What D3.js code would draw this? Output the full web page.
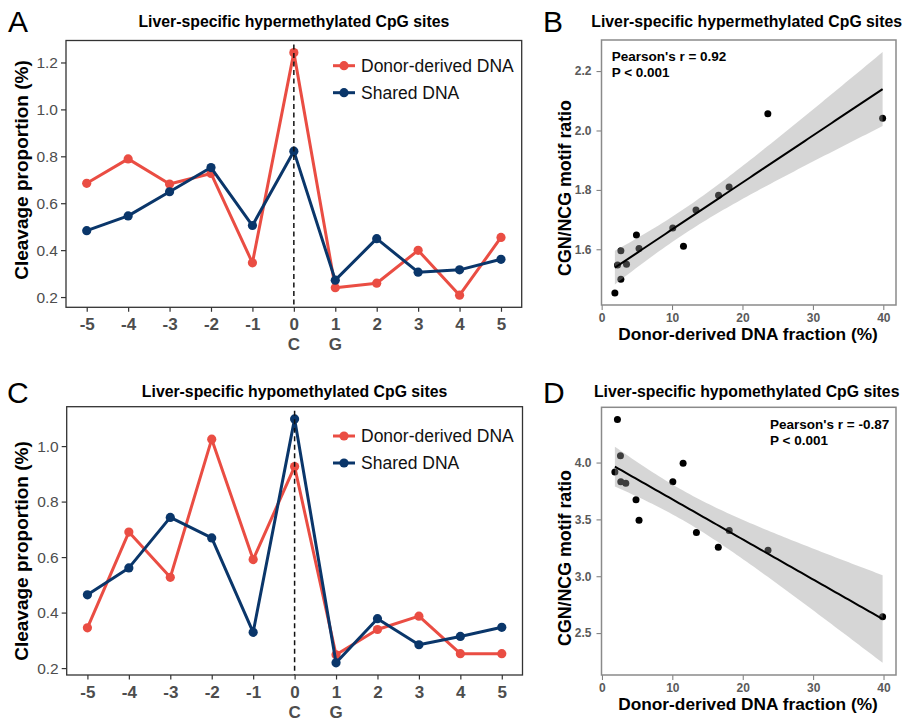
<!DOCTYPE html>
<html>
<head>
<meta charset="utf-8">
<script src="https://d3js.org/d3.v7.min.js"></script>
<style>
body { margin: 0; background: #fff; }
svg { display: block; font-family: "Liberation Sans", Arial, Helvetica, sans-serif; }
</style>
</head>
<body>
<script>
// ---- data ----
let positions = [-5, -4, -3, -2, -1, 0, 1, 2, 3, 4, 5];
let baseLabels = {0: "C", 1: "G"};

// A: hypermethylated sites, cleavage proportion (%)
let donorHyper  = [0.685, 0.789, 0.682, 0.727, 0.346, 1.242, 0.240, 0.259, 0.399, 0.208, 0.454];
let sharedHyper = [0.483, 0.546, 0.649, 0.752, 0.505, 0.822, 0.272, 0.449, 0.306, 0.316, 0.361];
// C: hypomethylated sites
let donorHypo   = [0.345, 0.690, 0.527, 1.025, 0.591, 0.926, 0.248, 0.339, 0.387, 0.252, 0.252];
let sharedHypo  = [0.464, 0.561, 0.743, 0.669, 0.329, 1.098, 0.219, 0.378, 0.284, 0.314, 0.347];

// B / D: donor fraction (%) vs CGN/NCG ratio
let fracHyper  = [1.88, 2.26, 2.73, 2.73, 3.53, 4.94, 5.31, 10.1, 11.62, 13.4, 16.6, 18.1, 23.6, 39.9];
let ratioHyper = [1.453, 1.547, 1.595, 1.499, 1.55, 1.648, 1.603, 1.672, 1.61, 1.732, 1.782, 1.81, 2.056, 2.041];
let fracHypo   = [1.84, 2.2, 2.63, 2.68, 3.39, 4.84, 5.27, 10.07, 11.53, 13.42, 16.53, 18.08, 23.59, 39.87];
let ratioHypo  = [3.918, 4.379, 4.059, 3.831, 3.819, 3.673, 3.492, 3.831, 3.994, 3.384, 3.256, 3.402, 3.229, 2.645];

let ticksA = [0.2, 0.4, 0.6, 0.8, 1.0, 1.2];
let ticksC = [0.2, 0.4, 0.6, 0.8, 1.0];
let ticksFrac = [0, 10, 20, 30, 40];
let ticksB = [1.6, 1.8, 2.0, 2.2];
let ticksD = [2.5, 3.0, 3.5, 4.0];

let seriesNames = ["Donor-derived DNA", "Shared DNA"];
let tCrit = 2.179; // t(0.975, df = 12)

// ---- drawing ----
let width = 903, height = 722;
let red = "#EA4D43", navy = "#0A366A";

let svg = d3.select("body").append("svg")
    .attr("width", width)
    .attr("height", height);
svg.append("rect").attr("width", width).attr("height", height).attr("fill", "#fff");

function expand(ext) {
    let pad = (ext[1] - ext[0]) * 0.05;
    return [ext[0] - pad, ext[1] + pad];
}

function linePanel(c) {
    let g = svg.append("g");
    let x = d3.scaleLinear().domain([-5.5, 5.5]).range([c.x0, c.x1]);
    let y = d3.scaleLinear()
        .domain(expand(d3.extent(c.donor.concat(c.shared))))
        .range([c.y1, c.y0]);

    // axes
    let ya = g.append("g").attr("transform", `translate(${c.x0},0)`)
        .call(d3.axisLeft(y).tickValues(c.yTicks).tickFormat(d3.format(".1f")).tickSize(5).tickPadding(3));
    ya.select(".domain").remove();
    ya.selectAll("line").attr("stroke", "#333").attr("stroke-width", 1.2);
    ya.selectAll("text").attr("font-size", 15.5).attr("fill", "#4d4d4d")
        .attr("font-family", "Liberation Sans, Arial, sans-serif");

    let xa = g.append("g").attr("transform", `translate(0,${c.y1})`)
        .call(d3.axisBottom(x).tickValues(positions).tickFormat(d => String(d)).tickSize(4.5));
    xa.select(".domain").remove();
    xa.selectAll("line").attr("stroke", "#333").attr("stroke-width", 1.2);
    xa.selectAll("text").attr("y", 23).attr("dy", 0)
        .attr("font-size", 17).attr("font-weight", "bold").attr("fill", "#4d4d4d")
        .attr("font-family", "Liberation Sans, Arial, sans-serif");

    g.selectAll(".base").data(positions.filter(p => baseLabels[p]))
        .join("text")
        .attr("x", d => x(d)).attr("y", c.y1 + 43)
        .attr("text-anchor", "middle")
        .attr("font-size", 17).attr("font-weight", "bold").attr("fill", "#4d4d4d")
        .text(d => baseLabels[d]);

    // series
    let line = d3.line().x((d, i) => x(positions[i])).y(d => y(d));
    [[c.donor, red], [c.shared, navy]].forEach(([vals, col]) => {
        g.append("path").datum(vals)
            .attr("d", line).attr("fill", "none")
            .attr("stroke", col).attr("stroke-width", 3).attr("stroke-linejoin", "round");
        g.selectAll(null).data(vals).join("circle")
            .attr("cx", (d, i) => x(positions[i])).attr("cy", d => y(d))
            .attr("r", 4.6).attr("fill", col);
    });

    // dashed marker at the cytosine
    g.append("line")
        .attr("x1", x(0)).attr("x2", x(0))
        .attr("y1", c.y0 + 4).attr("y2", c.y1)
        .attr("stroke", "#111").attr("stroke-width", 1.5).attr("stroke-dasharray", "5,3.5");

    // legend
    let lg = g.append("g").attr("transform", `translate(333,${c.legendY})`);
    [red, navy].forEach((col, i) => {
        let row = lg.append("g").attr("transform", `translate(0,${i * 27})`);
        row.append("line").attr("x1", 0).attr("x2", 22).attr("stroke", col).attr("stroke-width", 3);
        row.append("circle").attr("cx", 11).attr("r", 4.6).attr("fill", col);
        row.append("text").attr("x", 28).attr("dy", "0.35em")
            .attr("font-size", 17.5).attr("fill", "#111").text(seriesNames[i]);
    });

    // frame
    g.append("rect").attr("x", c.x0).attr("y", c.y0)
        .attr("width", c.x1 - c.x0).attr("height", c.y1 - c.y0)
        .attr("fill", "none").attr("stroke", "#333").attr("stroke-width", 1.3);

    // labels
    g.append("text").attr("x", (c.x0 + c.x1) / 2).attr("y", c.titleY)
        .attr("text-anchor", "middle").attr("font-size", 15.8).attr("font-weight", "bold")
        .text(c.title);
    g.append("text").attr("transform", `translate(28,${c.yLabelY}) rotate(-90)`)
        .attr("text-anchor", "middle").attr("font-size", 19).attr("font-weight", "bold")
        .text("Cleavage proportion (%)");
    g.append("text").attr("x", c.letterX).attr("y", c.letterY)
        .attr("font-size", 30).text(c.letter);
}

function lmBand(xs, ys, dom) {
    let n = xs.length, mx = d3.mean(xs), my = d3.mean(ys);
    let sxx = d3.sum(xs, v => (v - mx) ** 2);
    let sxy = d3.sum(xs.map((v, i) => (v - mx) * (ys[i] - my)));
    let b = sxy / sxx, a = my - b * mx;
    let s = Math.sqrt(d3.sum(xs.map((v, i) => (ys[i] - a - b * v) ** 2)) / (n - 2));
    return d3.range(80).map(i => {
        let xv = dom[0] + i * (dom[1] - dom[0]) / 79;
        let fit = a + b * xv;
        let se = s * Math.sqrt(1 / n + (xv - mx) ** 2 / sxx);
        return {x: xv, fit: fit, lo: fit - tCrit * se, hi: fit + tCrit * se};
    });
}

function scatterPanel(c) {
    let g = svg.append("g");
    let xExt = d3.extent(c.xs);
    let band = lmBand(c.xs, c.ys, xExt);
    let x = d3.scaleLinear().domain(expand(xExt)).range([c.x0, c.x1]);
    let y = d3.scaleLinear()
        .domain(expand([Math.min(d3.min(c.ys), d3.min(band, d => d.lo)),
                        Math.max(d3.max(c.ys), d3.max(band, d => d.hi))]))
        .range([c.y1, c.y0]);

    let ya = g.append("g").attr("transform", `translate(${c.x0},0)`)
        .call(d3.axisLeft(y).tickValues(c.yTicks).tickFormat(d3.format(".1f")).tickSize(5).tickPadding(5));
    ya.select(".domain").remove();
    ya.selectAll("line").attr("stroke", "#777");
    ya.selectAll("text").attr("font-size", 12).attr("font-weight", "bold").attr("fill", "#5a5a5a")
        .attr("font-family", "Liberation Sans, Arial, sans-serif");

    let xa = g.append("g").attr("transform", `translate(0,${c.y1})`)
        .call(d3.axisBottom(x).tickValues(ticksFrac).tickSize(5));
    xa.select(".domain").remove();
    xa.selectAll("line").attr("stroke", "#777");
    xa.selectAll("text").attr("y", 17).attr("dy", 0)
        .attr("font-size", 12).attr("font-weight", "bold").attr("fill", "#5a5a5a")
        .attr("font-family", "Liberation Sans, Arial, sans-serif");

    g.selectAll(null).data(c.xs).join("circle")
        .attr("cx", d => x(d)).attr("cy", (d, i) => y(c.ys[i]))
        .attr("r", 3.5).attr("fill", "#000");

    g.append("path").datum(band)
        .attr("d", d3.area().x(d => x(d.x)).y0(d => y(d.lo)).y1(d => y(d.hi)))
        .attr("fill", "#999").attr("fill-opacity", 0.4);
    g.append("path").datum(band)
        .attr("d", d3.line().x(d => x(d.x)).y(d => y(d.fit)))
        .attr("fill", "none").attr("stroke", "#000").attr("stroke-width", 2);

    g.append("rect").attr("x", c.x0).attr("y", c.y0)
        .attr("width", c.x1 - c.x0).attr("height", c.y1 - c.y0)
        .attr("fill", "none").attr("stroke", "#8a8a8a").attr("stroke-width", 1.5);

    let ann = g.append("text").attr("font-size", 13.5).attr("font-weight", "bold");
    c.note.forEach((t, i) => ann.append("tspan")
        .attr("x", c.noteX).attr("y", c.noteY + i * 16.5).text(t));

    g.append("text").attr("x", 746.7).attr("y", c.titleY)
        .attr("text-anchor", "middle").attr("font-size", 15.8).attr("font-weight", "bold")
        .text(c.title);
    g.append("text").attr("x", 748).attr("y", c.y1 + 35)
        .attr("text-anchor", "middle").attr("font-size", 17.3).attr("font-weight", "bold")
        .text("Donor-derived DNA fraction (%)");
    g.append("text").attr("transform", `translate(571,${c.yLabelY}) rotate(-90)`)
        .attr("text-anchor", "middle").attr("font-size", 17.8).attr("font-weight", "bold")
        .text("CGN/NCG motif ratio");
    g.append("text").attr("x", 543).attr("y", c.letterY)
        .attr("font-size", 30).text(c.letter);
}

linePanel({
    x0: 66, x1: 521.7, y0: 40.5, y1: 307.3,
    donor: donorHyper, shared: sharedHyper, yTicks: ticksA,
    title: "Liver-specific hypermethylated CpG sites", titleY: 26.5,
    letter: "A", letterX: 8, letterY: 32, yLabelY: 170, legendY: 65.7
});
linePanel({
    x0: 66.7, x1: 522.5, y0: 406.7, y1: 675,
    donor: donorHypo, shared: sharedHypo, yTicks: ticksC,
    title: "Liver-specific hypomethylated CpG sites", titleY: 396.7,
    letter: "C", letterX: 7, letterY: 402.7, yLabelY: 551, legendY: 436
});
scatterPanel({
    x0: 601.5, x1: 896, y0: 40, y1: 305,
    xs: fracHyper, ys: ratioHyper, yTicks: ticksB,
    title: "Liver-specific hypermethylated CpG sites", titleY: 26.7,
    letter: "B", letterY: 31.7, yLabelY: 188,
    note: ["Pearson's r = 0.92", "P < 0.001"], noteX: 611.7, noteY: 60.5
});
scatterPanel({
    x0: 601.5, x1: 896, y0: 407.3, y1: 675,
    xs: fracHypo, ys: ratioHypo, yTicks: ticksD,
    title: "Liver-specific hypomethylated CpG sites", titleY: 396.7,
    letter: "D", letterY: 403, yLabelY: 558,
    note: ["Pearson's r = -0.87", "P < 0.001"], noteX: 770, noteY: 428.5
});
</script>
</body>
</html>
